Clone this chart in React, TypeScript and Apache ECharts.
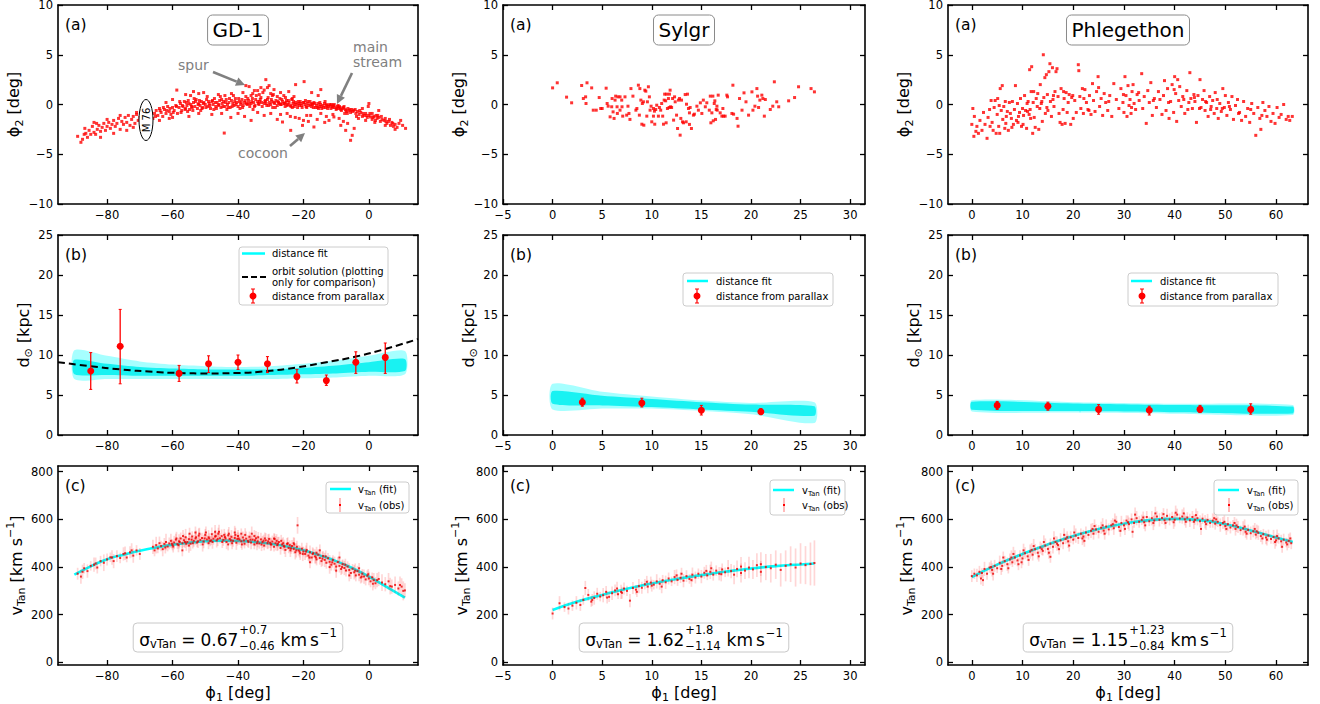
import React, { useEffect, useRef } from "react";
import * as echarts from "echarts";

const FONT = '"DejaVu Sans", "Liberation Sans", sans-serif';

// ---------- layout of the 3x3 panels (pixels) ----------
const COL_LEFT = [58, 503, 948];
const COL_W = [360, 362, 360];
const ROW_TOP = [5, 235, 466];
const ROW_H = [199, 200, 199];

// ---------- axes ----------
const X_MIN = [-95, -5, -4.7];
const X_MAX = [15, 31.5, 66.3];
const X_TICKS = [
  [-80, -60, -40, -20, 0],
  [-5, 0, 5, 10, 15, 20, 25, 30],
  [0, 10, 20, 30, 40, 50, 60],
];
const Y_MIN = [-10, 0, -11];
const Y_MAX = [10, 25, 824];
const Y_TICKS = [
  [-10, -5, 0, 5, 10],
  [0, 5, 10, 15, 20, 25],
  [0, 200, 400, 600, 800],
];
const Y_NAMES = [
  "{m|ϕ}{s|2}{m| [deg]}",
  "{m|d}{s|⊙}{m| [kpc]}",
  "{m|v}{s|Tan}{m| [km s}{u|−1}{m|]}",
];
const X_NAME = "{m|ϕ}{s|1}{m| [deg]}";
const STREAMS = ["GD-1", "Sylgr", "Phlegethon"];
const TAGS = ["(a)", "(b)", "(c)"];

// ---------- row (a): phi2 vs phi1 ----------
const GD1_PHI = [
  [-89,-3.2],[-88,-3.8],[-87.5,-3.5],[-87,-3.0],[-86.5,-2.9],[-86,-3.3],[-85.5,-2.6],[-85,-3.0],[-84.5,-2.2],[-84,-2.8],
  [-83.5,-3.0],[-83,-2.5],[-82.5,-2.1],[-82,-2.7],[-81.5,-2.3],[-81,-1.9],[-80.5,-2.6],[-80,-2.2],[-79.5,-1.8],[-79,-2.4],
  [-78.5,-2.0],[-78,-1.6],[-77.5,-2.2],[-77,-1.9],[-76.5,-1.4],[-76,-2.5],[-75.5,-1.7],[-75,-2.0],[-74.5,-1.3],[-74,-1.8],
  [-73.5,-1.1],[-73,-2.1],[-72.5,-1.5],[-72,-1.2],[-71.5,-1.9],[-71,-1.0],[-70.5,-1.6],[-70,-1.3],[-72,-2.3],[-74,-2.6],
  [-78,-2.9],[-82,-3.3],[-84,-1.8],[-80,-1.5],[-76,-1.1],[-71,-0.8],[-86.8,-2.4],[-83.2,-1.9],
  [-66,-1.4],[-65.5,-0.9],[-65,-0.6],[-64.5,-1.1],[-64,-0.4],[-63.5,-0.8],[-63,-1.2],[-62.5,-0.5],[-62,-0.9],[-61.5,-0.2],
  [-61,-0.7],[-60.5,-1.0],[-60,-0.3],[-59.5,-0.6],[-59,-0.1],[-58.5,-0.9],[-62,0.2],[-60,0.5],[-64,-1.6],[-61,-1.4],
  [-58,-0.3],[-57.6,0.1],[-57.2,-0.6],[-56.8,-0.2],[-56.4,0.3],[-56,-0.4],[-55.6,-0.1],[-55.2,0.4],[-54.8,-0.5],[-54.4,0],
  [-54,-0.3],[-53.6,0.2],[-53.2,-0.2],[-52.8,0.5],[-52.4,-0.4],[-52,0.1],[-51.6,-0.1],[-51.2,0.3],[-50.8,-0.3],[-50.4,0.2],
  [-50,0],[-49.6,0.5],[-49.2,-0.2],[-48.8,0.1],[-48.4,-0.4],[-48,0.3],[-47.6,0],[-47.2,0.6],[-46.8,-0.2],[-46.4,0.2],
  [-46,-0.1],[-45.6,0.4],[-45.2,-0.3],[-44.8,0.1],[-44.4,0.3],[-44,-0.2],[-43.6,0.5],[-43.2,0],[-42.8,0.2],[-42.4,-0.3],
  [-42,0.4],[-41.6,0.1],[-41.2,-0.1],[-40.8,0.6],[-40.4,0.2],[-40,-0.2],[-39.6,0.3],[-39.2,0],[-38.8,0.5],[-38.4,-0.1],
  [-38,0.2],[-37.6,0.8],[-37.2,0],[-36.8,0.4],[-36.4,-0.2],[-36,0.1],[-35.6,0.6],[-35.2,0.2],[-34.8,-0.1],[-34.4,0.9],
  [-34,0.3],[-33.6,0],[-33.2,0.5],[-32.8,0.2],[-32.4,1.2],[-32,0.1],[-31.6,0.4],[-31.2,-0.1],[-30.8,0.7],[-30.4,0.2],
  [-30,0],[-29.6,0.3],[-29.2,1.0],[-28.8,0.1],[-28.4,0.4],[-28,-0.1],[-27.6,0.2],[-27.2,0.6],[-26.8,0],[-26.4,0.3],
  [-26,0.1],[-25.6,-0.2],[-25.2,0.4],[-24.8,0],[-24.4,0.2],[-24,-0.1],[-23.6,0.5],[-23.2,0.1],[-22.8,-0.2],[-22.4,0.2],
  [-22,0],[-21.6,0.3],[-21.2,-0.1],[-20.8,0.1],[-20.4,-0.3],[-20,0.2],[-19.6,0],[-19.2,-0.2],[-18.8,0.1],[-18.4,-0.1],
  [-18,0.3],[-17.6,-0.2],[-17.2,0],[-16.8,0.2],[-16.4,-0.3],[-16,-0.1],[-15.6,0.1],[-15.2,-0.2],[-14.8,0],[-14.4,-0.4],
  [-14,-0.1],[-13.6,0.1],[-13.2,-0.3],[-12.8,-0.1],[-12.4,-0.2],[-12,0],[-11.6,-0.4],[-11.2,-0.2],[-10.8,-0.1],[-10.4,-0.3],
  [-10,-0.5],[-9.6,-0.2],[-9.2,-0.4],[-8.8,-0.3],[-8.4,-0.6],[-8,-0.4],[-7.6,-0.2],[-7.2,-0.5],[-6.8,-0.7],[-6.4,-0.4],
  [-6,-0.6],[-5.6,-0.8],[-5.2,-0.5],
  [-57.4,-0.8],[-55.4,-0.7],[-53.4,0.6],[-51.4,-0.6],[-49.4,0.8],[-47.4,-0.5],[-45.4,0.8],[-43.4,-0.5],[-41.4,0.9],[-39.4,-0.4],
  [-37.4,0.1],[-35.4,-0.5],[-33.4,0.3],[-31.4,0.1],[-29.4,-0.3],[-27.4,0.1],[-25.4,0.2],[-23.4,-0.3],[-21.4,0.1],[-19.4,0.4],
  [-17.4,0.1],[-15.4,-0.4],[-13.4,0.3],[-11.4,0],[-9.4,-0.1],[-7.4,-0.9],[-56,1.0],[-52,1.1],[-53.6,1.3],[-44,0.9],
  [-46,1.0],[-42,1.1],[-54.5,0.9],[-58.7,1.45],[-50.5,1.2],
  [-57.8,0.3],[-57,-0.1],[-56.2,-0.5],[-55.8,0.2],[-55,0.1],[-54.2,-0.2],[-53.8,-0.6],[-53,0.3],[-52.2,0],[-51.8,0.4],
  [-51,-0.4],[-50.6,0.1],[-49.8,-0.3],[-49,0.3],[-48.6,-0.1],[-47.8,0.4],[-47,0.2],[-46.6,-0.4],[-45.8,0],[-45,0.5],
  [-44.6,-0.2],[-43.8,0.2],[-43,-0.3],[-42.6,0.6],[-41.8,-0.2],[-41,0.3],[-40.6,0],[-39.8,0.6],[-39,0.2],[-38.6,-0.3],
  [-37.8,0.4],[-37,0.6],[-36.6,0.1],[-35.8,0.3],[-35,-0.2],[-34.6,0.5],[-33.8,0.1],[-33,0.7],[-32.6,-0.2],[-31.8,0.3],
  [-31,0.5],[-30.6,-0.1],[-29.8,0.5],[-29,0.2],[-28.6,-0.3],[-27.8,0.3],[-27,0],[-26.6,0.5],[-25.8,0.1],[-25,-0.1],
  [-24.6,0.4],[-23.8,-0.2],[-23,0.3],[-22.6,0],[-21.8,-0.3],[-21,0.3],[-20.6,-0.1],[-19.8,0.2],[-19,-0.3],[-18.6,0.3],
  [-17.8,0],[-17,-0.3],[-16.6,0.1],[-15.8,-0.3],[-15,0.2],[-14.6,-0.2],[-13.8,-0.3],[-13,0],[-12.6,-0.4],[-11.8,-0.1],
  [-11,-0.3],[-10.6,0],[-9.8,-0.4],[-9,-0.2],[-8.6,-0.5],[-7.8,-0.3],[-7,-0.6],[-6.6,-0.9],[-5.8,-0.5],[-5,-0.7],
  [-4.2,-0.5],[-3.8,-1.2],[-2.8,-0.6],[-1.8,-0.9],[-0.8,-1.1],[0.3,-0.9],[1.3,-1.3],[2.7,-1.1],[3.8,-1.2],[5.2,-1.7],
  [6.3,-1.5],[7.3,-1.9],[-63.8,-0.6],[-62.8,-0.3],[-61.8,-0.6],[-60.8,-0.4],[-59.8,-0.8],[-58.8,-0.2],[-65.2,-1.2],[-66.5,-1.0],
  [-37.6,1.9],[-36.6,1.8],[-35,1.4],[-34,1.4],[-33,1.7],[-32,1.45],[-31.5,2.5],[-31,1.7],[-30,1.1],[-29,1.5],
  [-28,0.8],[-27,1.2],[-26,0.9],[-33.5,1.0],[-35.5,1.1],[-36,0.9],[-38.5,1.2],[-30.5,1.9],[-29.5,0.9],[-24.5,1.3],
  [-23.4,0.6],[-22.9,0.8],[-22.4,2.0],[-19.8,2.3],[-17.5,1.2],[-14.7,1.5],[-15.5,0.9],[-25.5,0.7],
  [-44.2,-2.87],[-42.2,-1.3],[-40,-0.9],[-38,-1.2],[-36,-1.6],[-34,-0.8],[-32,-1.1],[-30,-0.9],[-28,-1.5],[-26.4,-1.76],
  [-25,-0.9],[-23.9,-2.6],[-22.5,-1.3],[-21.3,-1.4],[-20.3,-2.1],[-19,-1.1],[-17.8,-1.1],[-16.8,-2.26],[-15.8,-1.5],[-14.7,-0.9],
  [-13.5,-1.8],[-12.2,-1.6],[-11,-1.0],[-10.7,-1.25],[-9.1,-1.4],[-8.6,-2.1],[-7.8,-1.7],[-7.1,-2.6],[-6.5,-1.9],[-5.6,-3.6],
  [-5.1,-3.1],[-4.5,-2.4],[-18.5,-1.7],[-24,-1.2],[-27,-1.0],[-20,-1.6],[-13,-1.2],[-45,-0.9],[-48,-1.0],[-52,-0.9],
  [-55,-1.2],[-60,-1.3],
  [-4.6,-0.6],[-4,-0.9],[-3.5,-0.7],[-3,-1.0],[-2.5,-0.8],[-2,-1.2],[-1.5,-1.1],[-1,-0.9],[-0.5,-1.3],[0,-1.1],
  [0.5,-1.25],[1,-1.5],[1.5,-1.2],[2,-1.6],[2.5,-1.4],[3,-1.3],[3.5,-1.7],[4,-1.5],[4.6,-1.6],[5,-1.4],
  [5.5,-1.9],[6,-1.7],[6.6,-2.1],[7,-1.8],[7.5,-2.2],[8,-2.0],[8.6,-2.3],[9.2,-1.9],[9.7,-1.6],[10.3,-2.1],
  [11.2,-2.4],[0,0.1],[-0.2,-0.2],[-2,-0.4],[1,-0.9],[3,-0.6],[5,-2.1],[8,-2.5],[-1,-1.6],[2.2,-1.1],
  [1.8,-1.8],[-3.2,-1.4],
];

const SYLGR_PHI = [
  [0,1.67],[0.47,2.18],[1.41,0.74],[1.92,0.17],[2.93,1.91],[3.1,0.6],[3.33,0.77],[3.47,2.18],[3.37,0.1],[3.94,1.67],
  [4.1,-0.57],[4.4,-0.57],[4.7,0.7],[4.85,-0.4],[5.0,-0.4],[5.4,1.64],[5.5,0.1],[5.6,-0.17],[5.8,-1.24],[5.96,-0.23],
  [6.0,0.6],[6.1,-0.74],[6.2,-1.4],[6.3,0.44],[6.36,0.84],[6.5,-0.23],[6.53,-0.9],[6.6,0.77],[6.8,0.77],[6.8,-0.57],
  [6.97,0.44],[7.0,-0.23],[7.07,-1.17],[7.3,0.77],[7.47,-1.07],[7.6,-0.17],[7.7,-0.9],[7.8,-1.5],[7.9,1.6],[8.1,0.84],
  [8.4,-0.57],[8.5,-0.4],[8.65,1.94],[8.75,-1.07],[8.8,1.6],[8.9,0.44],[9.0,-1.98],[9.05,0.1],[9.16,0.27],[9.2,-2.08],
  [9.3,1.44],[9.4,1.34],[9.5,-1.17],[9.56,0.27],[9.66,1.78],[9.76,0.77],[9.83,-0.57],[9.93,-0.17],[10.0,-1.74],[10.17,-0.4],
  [10.17,-1.17],[10.27,-0.67],[10.3,-1.98],[10.4,-0.5],[10.5,-0.07],[10.67,-1.17],[10.77,-0.3],[10.9,-0.57],[11.0,0.1],[11.1,-1.17],
  [11.18,-1.98],[11.25,0.44],[11.3,1.04],[11.4,0.37],[11.45,-1.84],[11.5,1.04],[11.58,-0.4],[11.68,0.6],[11.75,-0.3],[11.78,1.04],
  [11.85,1.44],[11.9,-0.23],[12.0,-0.3],[12.1,0.6],[12.2,-1.57],[12.3,0.77],[12.36,0.27],[12.5,-1.07],[12.6,-2.41],[12.7,0.44],
  [12.8,0.6],[12.86,-3.08],[12.93,-1.4],[13.0,0.44],[13.1,-1.74],[13.2,-1.84],[13.37,1.0],[13.47,-1.74],[13.5,0.03],[13.6,1.04],
  [13.7,-0.4],[13.8,-0.84],[13.8,-2.0],[13.87,-0.3],[14.0,-2.41],[14.2,-1.07],[14.3,-0.97],[14.55,-0.17],[14.7,-0.57],[14.9,0.17],
  [15.05,-0.9],[15.2,0.44],[15.4,-0.23],[15.55,0.17],[15.8,-0.57],[15.9,0.84],[15.96,-1.84],[16.06,-0.84],[16.16,0.84],[16.2,-1.64],
  [16.3,0.1],[16.36,0.37],[16.43,-1.5],[16.5,-0.5],[16.57,-0.17],[16.6,-0.57],[16.7,0.94],[16.9,-0.84],[17.07,-1.17],[17.17,-0.4],
  [17.24,-1.17],[17.4,-1.17],[17.57,0.94],[17.64,0.77],[18.08,-0.9],[18.18,1.94],[18.25,-0.97],[18.6,-1.4],[18.7,-2.18],[18.85,0.6],
  [19.1,-0.57],[19.3,1.17],[19.5,0.27],[19.76,-1.07],[20.1,1.27],[20.2,-0.57],[20.4,-0.17],[20.6,1.6],[20.67,0.84],[20.77,-0.3],
  [20.9,0.44],[21.1,0.94],[21.2,0.6],[21.35,-1.17],[21.45,0.5],[21.95,-0.5],[22.2,-0.17],[22.36,2.28],[22.6,0.27],[22.8,-0.23],
  [23.8,0.37],[24.4,0.7],[24.8,1.78],[26.06,1.6],[26.4,1.27],
];

const PHLEG_PHI = [
  [0,-2.0],[0.2,-0.4],[0.4,-3.2],[0.5,-1.2],[0.8,-2.7],[1,-2.2],[1.3,-2.9],[1.6,-1.6],[2,-2.6],[2.3,-0.8],
  [2.6,-2.0],[3,-3.4],[3.2,-1.3],[3.5,-0.5],[3.6,-2.2],[3.8,0.4],[4,-1.8],[4.2,-2.6],[4.4,-0.3],[4.6,0.4],
  [4.8,-2.9],[5,-1.0],[5.1,0.6],[5.3,-2.2],[5.5,-2.9],[5.6,1.6],[5.8,-0.6],[6,1.9],[6.1,-1.5],[6.3,-0.2],
  [6.5,-2.4],[6.6,0.3],[6.8,-1.2],[7,-0.7],[7.2,-2.6],[7.4,0.2],[7.6,-0.9],[7.8,-1.4],[8,0.3],[8.2,-2.0],
  [8.4,-0.5],[8.6,1.9],[8.8,-1.6],[9,0.1],[9.2,-1.2],[9.4,-0.8],[9.6,0.6],[9.8,-2.2],[10,-0.4],[10.2,-1.1],
  [10.4,0.9],[10.6,-0.6],[10.8,-2.4],[11,-0.7],[11.1,0.3],[11.3,-1.0],[11.4,3.5],[11.5,-0.5],[11.7,1.3],[11.8,3.8],
  [12,-2.9],[12.1,0.2],[12.3,-1.3],[12.5,-2.3],[12.7,0.6],[12.9,-0.2],[13,1.1],[13.2,-2.5],[13.4,-0.4],[13.5,2.0],
  [13.7,0.1],[13.9,-1.7],[14.1,5.0],[14.2,0.7],[14.4,2.7],[14.5,-0.9],[14.7,3.0],[14.9,1.0],[15,-0.6],[15.2,3.3],
  [15.4,4.1],[15.5,0.3],[15.7,-1.2],[15.9,3.7],[16,0.5],[16.2,-0.2],[16.4,1.3],[16.6,3.3],[16.8,3.6],[17,0.8],
  [17.2,-0.9],[17.4,-1.8],[17.6,1.6],[17.8,-2.0],[18,-0.5],[18.2,0.6],[18.4,-1.9],[18.6,1.2],[18.8,-0.8],[19,0.2],
  [19.2,1.0],[19.5,-2.0],[19.7,0.7],[20,-1.4],[20.3,0.4],[20.6,-0.8],[21,4.0],[21.1,3.4],[21.3,0.8],[21.5,-0.4],
  [21.8,1.6],[22,-0.9],[22.3,1.5],[22.6,0.2],[22.9,-0.5],[23.2,0.9],[23.5,-1.0],[23.8,2.1],[24,0.4],[24.3,-0.7],
  [24.6,1.3],[24.9,2.8],[25.2,-0.2],[25.5,0.6],[25.8,-1.1],[26.1,1.1],[26.4,0.2],[26.8,-0.6],[27.2,0.9],[27.6,-1.2],
  [28,2.1],[28.5,0.5],[29,-0.4],[29.4,1.6],[29.8,0.2],[30,-0.8],[30.2,2.8],[30.4,0.9],[30.6,-1.2],[30.8,1.9],
  [31,-0.1],[31.2,0.5],[31.4,-0.9],[31.6,1.3],[31.8,2.0],[32,0.1],[32.3,-0.5],[32.6,1.0],[33,0.4],[33.5,3.1],
  [33.7,-0.4],[34,0.8],[34.4,-1.9],[34.7,1.4],[35,0.2],[35.3,2.2],[35.6,-1.1],[36,0.6],[36.4,-0.3],[36.8,1.3],
  [37.1,0.5],[37.5,-1.0],[37.8,0.9],[38,2.4],[38.3,-0.6],[38.6,1.6],[38.9,-1.4],[39.2,0.3],[39.5,2.0],[39.8,-0.8],
  [40,2.8],[40.2,1.1],[40.4,-1.7],[40.6,2.5],[40.8,0.4],[41,1.8],[41.3,-0.2],[41.6,0.8],[42,-0.9],[42.4,1.4],
  [42.8,0.2],[43,3.2],[43.2,0.6],[43.5,-0.4],[43.8,1.0],[44,0.3],[44.3,-1.8],[44.6,0.9],[45,2.5],[45.2,-0.3],
  [45.5,0.5],[45.8,1.4],[46,-0.6],[46.3,0.2],[46.6,-1.2],[46.9,0.8],[47.2,-0.2],[47.5,0.4],[47.8,-0.9],[48,1.2],
  [48.3,-0.4],[48.6,-1.4],[48.9,0.1],[49.2,-0.7],[49.5,1.6],[49.8,-0.3],[50,0.9],[50.3,-1.1],[50.6,0.2],[51,-0.5],
  [51.3,0.8],[51.6,-1.5],[52,-0.1],[52.4,0.5],[52.8,-0.8],[53.2,-1.6],[53.6,0.3],[54,-1.2],[54.4,-0.4],[54.8,-1.8],
  [55.2,0.1],[55.6,-0.9],[56,-3.1],[56.4,-0.3],[56.8,-1.4],[57,-2.5],[57.4,0.2],[57.8,-0.6],[58.2,-1.2],[58.6,-0.2],
  [59,-1.7],[59.4,-0.9],[59.8,-1.9],[60.2,-0.3],[60.6,-1.3],[61.5,0.0],[62,-1.5],[62.4,-1.2],[62.7,-1.6],[63.2,-1.2],
  [61,-1.0],[5.4,-0.1],[6.7,-1.9],[7.9,-2.3],[9.1,-1.8],[10.1,-2.0],[10.9,0.1],[11.6,-1.4],[12.2,1.3],[13.8,0.3],
  [14.8,-0.3],[16.1,0.9],[18.1,1.3],[19.9,0.9],[22.1,0.6],[23.1,-0.6],[25,1.7],[27,0.3],[29.9,1.0],[31.5,-0.3],
  [32.9,1.2],[35.8,0.4],[38.8,0.2],[39.9,1.5],[41.8,0.5],[42.6,-0.5],[43.9,0.7],[44.9,-0.4],[46.1,0.3],[47.1,-0.5],
  [48.4,0.5],[49.4,-0.4],[50.8,-0.2],[52.6,-0.9],[55,-0.5],[57.2,-1.1],
];

// ---------- row (b): distances ----------
// [phi1, d, lower, upper]
const GD1_PARALLAX = [
  [-85,8.0,5.7,10.3],[-76,11.1,6.4,15.7],[-58,7.7,6.7,8.7],[-49,8.9,7.8,9.9],[-40,9.1,8.2,10.0],
  [-31,8.9,7.8,9.8],[-22,7.3,6.5,8.2],[-13,6.8,6.2,7.5],[-4,9.1,7.7,10.4],[5,9.7,7.7,11.5],
];
const SYLGR_PARALLAX = [[3,4.1,3.6,4.6],[9,4.0,3.5,4.6],[15,3.1,2.5,3.7],[21,2.9,2.6,3.3]];
const PHLEG_PARALLAX = [[5,3.7,3.2,4.2],[15,3.6,3.1,4.1],[25,3.2,2.6,3.8],[35,3.1,2.5,3.6],[45,3.2,2.8,3.7],[55,3.2,2.6,3.9]];

const GD1_ORBIT_X = [-95,-85,-76,-66,-58,-49,-40,-31,-22,-13,-4,5,15];
const GD1_ORBIT_D = [9.1,8.6,8.2,7.9,7.75,7.7,7.75,8.0,8.45,9.1,9.8,10.75,12.0];

const GD1_BAND_X = [-90,-80,-70,-60,-50,-40,-30,-20,-10,0,11];
const GD1_BAND_OUT_HI = [10.6,9.9,9.2,8.8,8.6,8.5,8.6,8.9,9.3,9.9,10.5];
const GD1_BAND_OUT_LO = [7.0,7.0,7.0,7.0,7.0,7.0,7.0,7.1,7.2,7.4,7.6];
const GD1_BAND_IN_HI = [9.4,8.9,8.5,8.3,8.2,8.2,8.2,8.4,8.7,9.1,9.5];
const GD1_BAND_IN_LO = [7.6,7.5,7.4,7.4,7.4,7.4,7.5,7.6,7.7,7.9,8.0];

const SYLGR_BAND_X = [0,5,10,15,20,26.4];
const SYLGR_BAND_OUT_HI = [6.4,5.4,4.8,4.3,4.0,4.1];
const SYLGR_BAND_OUT_LO = [3.2,3.3,3.3,3.0,2.6,1.5];
const SYLGR_BAND_IN_HI = [5.5,4.9,4.5,4.1,3.8,3.6];
const SYLGR_BAND_IN_LO = [3.9,3.7,3.5,3.2,2.9,2.4];

const PHLEG_BAND_X = [0,20,40,63.3];
const PHLEG_BAND_OUT_HI = [4.35,4.1,3.9,3.75];
const PHLEG_BAND_OUT_LO = [2.95,2.8,2.65,2.5];
const PHLEG_BAND_IN_HI = [4.15,3.95,3.75,3.55];
const PHLEG_BAND_IN_LO = [3.15,3.0,2.85,2.7];

// ---------- row (c): tangential velocities ----------
const GD1_FIT_X = [-90,-85,-80,-75,-70,-65,-60,-55,-50,-45,-40,-35,-30,-25,-20,-15,-10,-5,0,5,11];
const GD1_FIT_V = [368,403,433,452,468,482,494,502,508,511,510,505,498,486,470,449,425,395,360,320,272];
const SYLGR_FIT_X = [0,2.5,5,7.5,10,12.5,15,17.5,20,22.5,25,26.4];
const SYLGR_FIT_V = [220,255,283,309,331,350,366,381,394,404,411,415];
const PHLEG_FIT_X = [0,5,10,15,20,25,30,35,40,45,50,55,60,63.3];
const PHLEG_FIT_V = [358,410,455,495,530,560,582,597,602,597,580,553,524,505];

// [phi1, vTan, error]
const GD1_OBS = [
  [-89,372,25],[-88,360,30],[-87,395,22],[-86,383,28],[-85,405,20],[-84,410,30],[-83,398,25],[-82,425,22],[-81,418,35],[-80,432,25],
  [-79,441,20],[-78,425,30],[-77,446,25],[-76,438,22],[-75,455,28],[-74,440,20],[-73,462,25],[-72,448,30],[-71,470,22],[-70,455,25],
  [-66,485,30],[-65.5,470,25],[-65,492,35],[-64.5,478,20],[-64,500,28],[-63.5,488,22],[-63,475,30],[-62.5,497,25],[-62,505,35],[-61.5,486,20],
  [-61,499,25],[-60.5,510,30],[-60,492,22],[-59.5,503,28],[-59,515,25],[-58.5,496,20],[-58,508,30],[-57.5,520,25],[-57,500,22],[-56.5,512,28],
  [-56,525,35],[-55.5,505,20],[-55,517,25],[-54.5,498,30],[-54,528,22],[-53.5,510,25],[-53,520,28],[-52.5,503,20],[-52,532,30],[-51.5,514,25],
  [-51,522,22],[-50.5,507,28],[-50,535,25],[-49.5,516,20],[-49,525,30],[-48.5,509,22],[-48,538,28],[-47.5,519,25],[-47,528,20],[-46.5,512,30],
  [-46,540,25],[-45.5,521,22],[-45,530,28],[-44.5,514,25],[-44,526,20],[-43.5,505,30],[-43,533,25],[-42.5,518,22],[-42,527,28],[-41.5,510,25],
  [-41,522,20],[-40.5,502,30],[-40,530,25],[-39.5,515,22],[-39,508,28],[-38.5,524,25],[-38,498,20],[-37.5,519,30],[-37,510,25],[-36.5,527,22],
  [-36,503,28],[-35.5,515,25],[-35,495,20],[-34.5,521,30],[-34,508,25],[-33.5,499,22],[-33,516,28],[-32.5,505,25],[-32,490,20],[-31.5,512,30],
  [-31,500,25],[-30.5,518,22],[-30,495,28],[-29.5,507,25],[-29,485,20],[-28.5,500,30],[-28,492,25],[-27.5,505,22],[-27,480,28],[-26.5,495,25],
  [-26,488,20],[-25.5,472,30],[-25,497,25],[-24.5,480,22],[-24,470,28],[-23.5,488,25],[-23,476,20],[-22.5,462,30],[-22,485,25],[-21.8,575,35],
  [-21.5,470,22],[-21,458,28],[-20.5,477,25],[-20,465,20],
  [-62.2,482,25],[-60.2,498,20],[-58.2,492,30],[-56.2,505,25],[-54.2,515,22],[-52.2,508,28],[-50.2,520,25],[-48.2,512,20],[-46.2,518,30],[-44.2,535,25],
  [-42.2,512,22],[-40.2,518,28],[-38.2,512,25],[-36.2,515,20],[-34.2,500,30],[-32.2,511,25],[-30.2,502,22],[-28.2,510,28],[-26.2,500,25],[-24.2,492,20],
  [-22.2,470,30],[-57,470,25],[-53,545,25],[-47,548,28],[-43,495,25],[-39,540,22],[-35,530,25],[-29,520,22],[-23,500,25],[-55,490,30],
  [-41,545,28],[-49,500,25],
  [-59.8,486,25],[-58.8,520,28],[-57.8,505,22],[-56.8,530,25],[-55.8,498,30],[-54.8,540,25],[-53.8,500,22],[-52.8,525,28],[-51.8,540,25],[-50.8,495,30],
  [-49.8,545,25],[-48.8,520,22],[-47.8,505,28],[-46.8,530,25],[-45.8,548,30],[-44.8,505,25],[-43.8,520,22],[-42.8,540,28],[-41.8,500,25],[-40.8,535,30],
  [-39.8,520,25],[-38.8,495,22],[-37.8,535,28],[-36.8,505,25],[-35.8,540,30],[-34.8,512,25],[-33.8,525,22],[-32.8,495,28],[-31.8,520,25],[-30.8,508,30],
  [-29.8,495,25],[-28.8,518,22],[-27.8,498,28],[-26.8,510,25],[-25.8,485,30],[-24.8,500,25],[-23.8,478,22],[-22.8,495,28],[-21.2,465,25],[-20.2,455,30],
  [-19.2,465,25],[-18.2,440,22],[-17.2,455,28],[-16.2,440,25],[-14.2,435,30],[-13.2,445,25],[-11.2,420,22],[-8.2,400,28],[-7.2,410,25],[-4.2,385,30],
  [-2.2,360,25],[-0.2,370,22],[1.2,330,28],[2.5,345,30],[6.5,320,35],[9.5,325,35],[10.5,300,40],[-87.5,380,30],[-83.5,415,25],[-78.5,440,30],
  [-74.5,458,28],[-72.5,470,30],
  [-19.5,455,25],[-19,472,30],[-18.5,448,22],[-18,462,28],[-17.5,440,25],[-17,458,20],[-16.5,445,30],[-16,432,25],[-15.5,452,22],[-15,438,28],
  [-14.5,425,25],[-14,446,20],[-13.5,430,30],[-13,418,25],[-12.5,437,22],[-12,422,28],[-11.5,410,25],[-11,430,20],[-10.5,414,30],[-10,402,25],
  [-9.5,421,22],[-9,405,28],[-8.5,392,25],[-8,412,20],[-7.5,396,30],[-7,385,25],[-6.5,402,22],[-6,388,28],[-5.5,375,25],[-5,393,20],
  [-4.5,378,30],[-4,365,25],[-3.5,383,22],[-3,368,28],[-2.5,356,25],[-2,372,20],[-1.5,360,30],[-1,348,25],[-0.5,364,22],[0,352,28],
  [0.5,340,25],[1,357,20],[1.5,345,30],[2,332,25],[3,350,30],[4,335,35],[5,328,30],[6,340,35],[7,318,30],[8,325,35],
  [9,310,30],[10,318,35],[11,302,30],[-18,420,25],[-15,470,25],[-12,400,28],[-9,440,25],[-6,365,25],[-3,395,22],[-16,460,25],
  [-10,385,30],
];

const SYLGR_OBS = [
  [0,205,25],[0.7,248,30],[1.2,232,20],[1.6,226,25],[2.0,238,22],[2.4,250,28],[2.8,241,25],[3.1,262,20],[3.3,312,30],[3.6,283,25],
  [3.9,255,22],[4.2,270,28],[4.5,288,25],[4.8,276,20],[5.1,282,30],[5.4,296,25],[5.7,275,22],[6.0,290,28],[6.3,302,25],[6.6,286,20],
  [6.9,296,30],[7.2,310,25],[7.5,300,22],[7.8,259,28],[8.1,312,25],[8.4,305,20],[8.7,320,30],[9.0,313,25],[9.3,328,22],[9.6,318,28],
  [9.9,335,25],[10.2,326,20],[10.5,340,30],[10.8,330,25],[11.1,345,22],[11.4,336,28],[11.7,352,25],[12.0,340,20],[12.3,358,30],[12.6,346,25],
  [12.9,355,22],[13.2,343,28],[13.5,362,25],[13.8,350,20],[14.1,368,30],[14.4,356,25],[14.7,372,22],[15.0,360,28],[15.3,376,25],[15.6,365,20],
  [15.9,380,30],[16.2,368,25],[16.5,385,22],[16.8,372,28],[17.1,390,25],[17.4,378,20],[17.7,395,35],[18.0,383,30],[18.3,368,40],[18.6,392,35],
  [19.0,402,40],[19.4,385,35],[19.8,398,45],[20.2,390,40],[20.6,408,50],[21.0,380,45],[21.5,400,55],[22.0,395,60],[22.5,410,60],[23.0,388,70],
  [23.5,405,65],[24.0,412,75],[24.5,398,80],[25.0,415,85],[25.5,408,80],[26.0,413,90],[26.4,417,95],[5.5,272,25],[7,292,25],[8.5,296,22],
  [9.5,338,25],[11,318,28],[12.5,365,25],[14,345,28],[15.5,384,25],[17,370,30],[10,322,25],[13,372,25],[6.5,310,28],[4,262,25],
  [16,395,28],[19,375,40],[21,412,50],
];

const PHLEG_OBS = [
  [0,362,25],[0.5,372,22],[1,365,28],[1.5,380,25],[2,375,20],[2.5,392,30],[3,372,25],[3.5,398,22],[4,388,28],[4.5,405,25],
  [5,395,20],[5.5,418,30],[6,405,25],[6.5,425,22],[7,412,28],[7.5,432,25],[8,420,20],[8.5,440,30],[9,428,25],[9.5,448,22],
  [10,436,28],[10.5,458,25],[11,445,20],[11.5,465,30],[12,452,25],[12.5,475,22],[13,460,28],[13.5,482,25],[14,468,20],[14.5,490,30],
  [15,476,25],[15.5,498,22],[16,485,28],[16.5,505,25],[17,492,20],[17.5,512,30],[18,500,25],[18.5,518,22],[19,508,28],[19.5,525,25],
  [20,515,20],[20.5,532,30],[21,522,25],[21.5,540,22],[22,528,28],[22.5,545,25],[23,535,20],[23.5,552,30],[24,540,25],[24.5,558,22],
  [25,548,28],[25.5,565,25],[26,553,20],[26.5,570,30],[27,558,25],[27.5,575,22],[28,563,28],[28.5,590,25],[29,568,20],[29.5,585,30],
  [30,575,25],[30.5,595,22],[31,580,28],[31.5,600,25],[32,585,20],[32.5,605,30],[33,590,25],[33.5,598,22],[34,588,28],[34.5,610,25],
  [35,592,20],[35.5,605,30],[36,595,25],[36.5,612,22],[37,598,28],[37.5,606,25],[38,596,20],[38.5,615,30],[39,600,25],[39.5,610,22],
  [40,598,28],[40.5,620,25],[41,604,20],[41.5,612,30],[42,600,25],[42.5,608,22],[43,596,28],[43.5,610,25],[44,598,20],[44.5,605,30],
  [45,592,25],[45.5,603,22],[46,590,28],[46.5,598,25],[47,585,20],[47.5,595,30],[48,582,25],[48.5,590,22],[49,576,28],[49.5,585,25],
  [50,572,20],[50.5,580,30],[51,566,25],[51.5,575,22],[52,560,28],[52.5,568,25],[53,555,20],[53.5,562,30],[54,548,25],[54.5,556,22],
  [55,542,28],[55.5,550,25],[56,536,20],[56.5,544,30],[57,530,25],[57.5,538,22],[58,524,28],[58.5,532,25],[59,518,20],[59.5,526,30],
  [60,512,25],[60.5,520,22],[61,508,28],[61.5,515,25],[62,503,20],[62.5,510,30],[63,500,25],
  [2.2,345,25],[4.2,372,28],[6.2,440,25],[7.2,395,22],[8.2,455,30],[9.2,412,25],[10.2,470,28],[11.2,430,25],[12.2,488,30],[13.2,445,22],
  [14.2,505,28],[15.2,460,25],[16.2,520,30],[17.2,475,22],[18.2,535,28],[19.2,490,25],[20.2,545,30],[22.2,510,25],[24.2,572,28],[26.2,540,25],
  [28.2,595,30],[30.2,560,25],[32.2,620,30],[34.2,575,25],[36.2,625,28],[38.2,585,25],[40.2,628,30],[42.2,590,25],[44.2,618,28],[46.2,580,25],
  [48.2,600,28],[50.2,560,25],[52.2,575,28],[54.2,540,25],[56.2,550,28],[58.2,515,25],[60.2,530,28],[62.2,495,25],[15.5,443,25],[29.3,552,25],
  [31.7,548,25],[45.2,560,25],[57.3,520,25],[61.2,485,25],
  [1.8,352,25],[3.8,400,28],[5.8,392,25],[7.8,440,30],[9.8,420,25],[11.8,472,28],[13.8,475,25],[16.8,498,30],[18.8,525,25],[21.8,520,28],
  [23.8,560,25],[25.8,575,30],[27.8,580,25],[30.8,588,28],[33.8,608,25],[35.8,585,30],[37.8,622,25],[39.8,588,28],[41.8,625,25],[43.8,590,30],
  [47.8,605,25],[49.8,590,28],[51.8,585,25],[53.8,570,30],[55.8,560,25],[59.8,505,28],[62.8,520,25],
];

const SIGMA = [
  { value: "0.67", plus: "+0.7", minus: "−0.46" },
  { value: "1.62", plus: "+1.8", minus: "−1.14" },
  { value: "1.15", plus: "+1.23", minus: "−0.84" },
];

// ---------- helpers ----------
let measureCtx: any = null;
function tw(text: string, size: number) {
  if (!measureCtx) measureCtx = document.createElement("canvas").getContext("2d");
  measureCtx.font = `${size}px "DejaVu Sans"`;
  return measureCtx.measureText(text).width;
}
const fmt = (v: number) => (v < 0 ? "\u2212" + Math.abs(v) : String(v));

function txt(x: number, y: number, text: string, size: number, opts: any = {}) {
  return {
    type: "text", x, y, z: 60, silent: true,
    rotation: opts.rotation || 0,
    style: {
      text, fill: opts.color || "#000", fontSize: size, fontFamily: FONT,
      align: opts.align || "left", verticalAlign: "middle", rich: opts.rich,
    },
  };
}
function rect(x: number, y: number, w: number, h: number, stroke: string, r = 4) {
  return { type: "rect", z: 55, silent: true, shape: { x, y, width: w, height: h, r },
    style: { fill: "rgba(255,255,255,0.9)", stroke, lineWidth: 1 } };
}
function seg(x1: number, y1: number, x2: number, y2: number, stroke: string, w: number, dash?: number[]) {
  return { type: "line", z: 60, silent: true, shape: { x1, y1, x2, y2 },
    style: { stroke, lineWidth: w, lineDash: dash || null } };
}
function arrow(x1: number, y1: number, x2: number, y2: number, color: string) {
  const dx = x2 - x1, dy = y2 - y1, L = Math.hypot(dx, dy);
  const ux = dx / L, uy = dy / L, hl = 9, hw = 4.5;
  const bx = x2 - ux * hl, by = y2 - uy * hl;
  return [
    seg(x1, y1, bx, by, color, 2.6),
    { type: "polygon", z: 60, silent: true,
      shape: { points: [[x2, y2], [bx - uy * hw, by + ux * hw], [bx + uy * hw, by - ux * hw]] },
      style: { fill: color } },
  ];
}
const LEG_RICH = {
  t: { fontSize: 10, fontFamily: FONT, fill: "#000", color: "#000", lineHeight: 14 },
  s: { fontSize: 7, fontFamily: FONT, fill: "#000", color: "#000", lineHeight: 7, verticalAlign: "bottom" },
};

function errDot(x: number, y: number) {
  return [
    seg(x, y - 7, x, y + 7, "#ff0000", 1.2),
    seg(x - 2, y - 7, x + 2, y - 7, "#ff0000", 1),
    seg(x - 2, y + 7, x + 2, y + 7, "#ff0000", 1),
    { type: "circle", z: 61, silent: true, shape: { cx: x, cy: y, r: 3.5 }, style: { fill: "#ff0000" } },
  ];
}
function obsMark(x: number, y: number) {
  return [
    seg(x, y - 7, x, y + 7, "rgba(255,0,0,0.45)", 1.2),
    { type: "rect", z: 61, silent: true, shape: { x: x - 1, y: y - 1, width: 2, height: 2 }, style: { fill: "#ff0000" } },
  ];
}

function sigmaBox(cx: number, C: number, d: any) {
  const M = 17, S = 11.5;
  const out: any[] = [];
  const parts: any[] = [];
  let x = 0;
  parts.push({ t: "σ", s: M, dy: 0, x }); x += tw("σ", M);
  parts.push({ t: "vTan", s: S, dy: 4, x }); x += tw("vTan", S) + 5;
  parts.push({ t: "=", s: M, dy: 0, x }); x += tw("=", M) + 5;
  parts.push({ t: d.value, s: M, dy: 0, x }); x += tw(d.value, M) + 1;
  parts.push({ t: d.plus, s: S, dy: -10, x });
  parts.push({ t: d.minus, s: S, dy: 6.5, x });
  x += Math.max(tw(d.plus, S), tw(d.minus, S)) + 6;
  parts.push({ t: "km", s: M, dy: 0, x }); x += tw("km", M) + 3;
  parts.push({ t: "s", s: M, dy: 0, x }); x += tw("s", M) + 1;
  parts.push({ t: "−1", s: S, dy: -7, x }); x += tw("−1", S);
  const x0 = cx - x / 2;
  const bw = x + 12;
  out.push(rect(cx - bw / 2, C - 16.5, bw, 29, "#c8c8c8", 4));
  for (const p of parts) out.push(txt(x0 + p.x, C + p.dy, p.t, p.s));
  return out;
}

function bandSeries(g: number, xs: number[], lo: number[], hi: number[], color: string, z: number) {
  return {
    type: "custom", xAxisIndex: 2 * g, yAxisIndex: 2 * g, silent: true, z,
    data: [[xs[0], lo[0]]], encode: { x: 0, y: 1 },
    renderItem: (params: any, api: any) => {
      const pts: number[][] = [];
      for (let i = 0; i < xs.length; i++) pts.push(api.coord([xs[i], hi[i]]));
      for (let i = xs.length - 1; i >= 0; i--) pts.push(api.coord([xs[i], lo[i]]));
      return { type: "polygon", shape: { points: pts, smooth: 0.25 }, style: { fill: color } };
    },
  };
}
function parallaxSeries(g: number, data: number[][]) {
  return {
    type: "custom", xAxisIndex: 2 * g, yAxisIndex: 2 * g, silent: true, z: 6,
    data, encode: { x: 0, y: 1 },
    renderItem: (params: any, api: any) => {
      const x = api.value(0), y = api.value(1), lo = api.value(2), hi = api.value(3);
      const p = api.coord([x, y]), pl = api.coord([x, lo]), ph = api.coord([x, hi]);
      return {
        type: "group",
        children: [
          { type: "line", shape: { x1: p[0], y1: ph[1], x2: p[0], y2: pl[1] }, style: { stroke: "#ff0000", lineWidth: 1.3 } },
          { type: "line", shape: { x1: p[0] - 1.5, y1: ph[1], x2: p[0] + 1.5, y2: ph[1] }, style: { stroke: "#ff0000", lineWidth: 1 } },
          { type: "line", shape: { x1: p[0] - 1.5, y1: pl[1], x2: p[0] + 1.5, y2: pl[1] }, style: { stroke: "#ff0000", lineWidth: 1 } },
          { type: "circle", shape: { cx: p[0], cy: p[1], r: 3.5 }, style: { fill: "#ff0000" } },
        ],
      };
    },
  };
}
function obsSeries(g: number, data: number[][]) {
  return {
    type: "custom", xAxisIndex: 2 * g, yAxisIndex: 2 * g, silent: true, z: 5,
    data, encode: { x: 0, y: 1 },
    renderItem: (params: any, api: any) => {
      const x = api.value(0), v = api.value(1), e = api.value(2);
      const p = api.coord([x, v]), t = api.coord([x, v + e]), b = api.coord([x, v - e]);
      return {
        type: "group",
        children: [
          { type: "line", shape: { x1: p[0], y1: t[1], x2: p[0], y2: b[1] }, style: { stroke: "rgba(255,0,0,0.16)", lineWidth: 1.7 } },
          { type: "rect", shape: { x: p[0] - 1, y: p[1] - 1, width: 2, height: 2 }, style: { fill: "rgba(235,0,0,0.8)" } },
        ],
      };
    },
  };
}
function pairs(xs: number[], ys: number[]) {
  return xs.map((x, i) => [x, ys[i]]);
}

function buildOption() {
  const grid: any[] = [], xAxis: any[] = [], yAxis: any[] = [], series: any[] = [], el: any[] = [];
  const nameStyle = {
    color: "#000", fontFamily: FONT,
    rich: {
      m: { fontSize: 16, fontFamily: FONT, color: "#000", lineHeight: 22 },
      s: { fontSize: 11, fontFamily: FONT, color: "#000", lineHeight: 11, verticalAlign: "bottom" },
      u: { fontSize: 11, fontFamily: FONT, color: "#000", lineHeight: 11, verticalAlign: "top" },
    },
  };
  const Y_NAME_GAP = [31, 21, 27];
  for (let r = 0; r < 3; r++) {
    for (let c = 0; c < 3; c++) {
      const g = r * 3 + c;
      grid.push({ left: COL_LEFT[c], top: ROW_TOP[r], width: COL_W[c], height: ROW_H[r], containLabel: false, outerBoundsMode: "none", show: false });
      const line = { show: true, onZero: false, lineStyle: { color: "#000", width: 1.6 } };
      const tick = (vals: number[]) => ({ show: true, inside: true, length: 5, customValues: vals, lineStyle: { color: "#000", width: 1.3 } });
      const label = (vals: number[]) => ({ show: true, customValues: vals, formatter: fmt, color: "#000", fontSize: 11.5, fontFamily: FONT, margin: 5 });
      const xb: any = {
        gridIndex: g, type: "value", position: "bottom", min: X_MIN[c], max: X_MAX[c],
        axisLine: line, axisTick: tick(X_TICKS[c]), axisLabel: label(X_TICKS[c]), splitLine: { show: false },
      };
      if (r === 2) Object.assign(xb, { name: X_NAME, nameLocation: "middle", nameGap: 16, nameTextStyle: nameStyle });
      xAxis.push(xb);
      xAxis.push({ gridIndex: g, type: "value", position: "top", min: X_MIN[c], max: X_MAX[c],
        axisLine: line, axisTick: tick(X_TICKS[c]), axisLabel: { show: false }, splitLine: { show: false } });
      yAxis.push({ gridIndex: g, type: "value", position: "left", min: Y_MIN[r], max: Y_MAX[r],
        axisLine: line, axisTick: tick(Y_TICKS[r]), axisLabel: label(Y_TICKS[r]), splitLine: { show: false },
        name: Y_NAMES[r], nameLocation: "middle", nameGap: Y_NAME_GAP[r], nameTextStyle: nameStyle });
      yAxis.push({ gridIndex: g, type: "value", position: "right", min: Y_MIN[r], max: Y_MAX[r],
        axisLine: line, axisTick: tick(Y_TICKS[r]), axisLabel: { show: false }, splitLine: { show: false } });
      el.push(txt(COL_LEFT[c] + 7, ROW_TOP[r] + 20, TAGS[r], 15.5));
    }
  }

  // ----- row (a) scatter -----
  const phi = [GD1_PHI, SYLGR_PHI, PHLEG_PHI];
  phi.forEach((d, c) => {
    series.push({ type: "scatter", xAxisIndex: 2 * c, yAxisIndex: 2 * c, data: d, symbol: "rect", symbolSize: 3,
      itemStyle: { color: "#ff0000" }, silent: true, z: 3 });
  });

  // ----- row (b) -----
  const bands = [
    [GD1_BAND_X, GD1_BAND_OUT_LO, GD1_BAND_OUT_HI, GD1_BAND_IN_LO, GD1_BAND_IN_HI],
    [SYLGR_BAND_X, SYLGR_BAND_OUT_LO, SYLGR_BAND_OUT_HI, SYLGR_BAND_IN_LO, SYLGR_BAND_IN_HI],
    [PHLEG_BAND_X, PHLEG_BAND_OUT_LO, PHLEG_BAND_OUT_HI, PHLEG_BAND_IN_LO, PHLEG_BAND_IN_HI],
  ];
  bands.forEach((b: any, c) => {
    const g = 3 + c;
    series.push(bandSeries(g, b[0], b[1], b[2], "rgba(0,255,255,0.35)", 2));
    series.push(bandSeries(g, b[0], b[3], b[4], "rgba(0,240,240,0.85)", 3));
  });
  series.push({ type: "line", xAxisIndex: 6, yAxisIndex: 6, data: pairs(GD1_ORBIT_X, GD1_ORBIT_D), smooth: true, showSymbol: false,
    silent: true, z: 4, lineStyle: { color: "#000", width: 2, type: [7, 4] } });
  [GD1_PARALLAX, SYLGR_PARALLAX, PHLEG_PARALLAX].forEach((d, c) => series.push(parallaxSeries(3 + c, d)));

  // ----- row (c) -----
  const fits = [[GD1_FIT_X, GD1_FIT_V], [SYLGR_FIT_X, SYLGR_FIT_V], [PHLEG_FIT_X, PHLEG_FIT_V]];
  fits.forEach((f, c) => {
    const g = 6 + c;
    series.push({ type: "line", xAxisIndex: 2 * g, yAxisIndex: 2 * g, data: pairs(f[0], f[1]), smooth: true, showSymbol: false,
      silent: true, z: 4, lineStyle: { color: "#00ffff", width: 2.6 } });
  });
  [GD1_OBS, SYLGR_OBS, PHLEG_OBS].forEach((d, c) => series.push(obsSeries(6 + c, d)));

  // ----- titles -----
  STREAMS.forEach((s, c) => {
    const cx = COL_LEFT[c] + COL_W[c] / 2;
    const w = tw(s, 20);
    el.push(rect(cx - w / 2 - 5, 15, w + 10, 30, "#8a8a8a", 5));
    el.push(txt(cx, 30, s, 20, { align: "center" }));
  });

  // ----- GD-1 annotations -----
  const gray = "#808080";
  el.push(txt(178, 65, "spur", 14, { color: gray }));
  el.push(txt(353, 47, "main", 14, { color: gray }));
  el.push(txt(353, 62, "stream", 14, { color: gray }));
  el.push(txt(238, 153, "cocoon", 14, { color: gray }));
  el.push(...arrow(213, 72, 245, 85, gray));
  el.push(...arrow(352, 73, 337, 104, gray));
  el.push(...arrow(290, 146, 305, 133, gray));
  el.push({ type: "ellipse", z: 58, silent: true, shape: { cx: 146, cy: 120, rx: 7, ry: 20.5 }, style: { fill: "#fff", stroke: "#000", lineWidth: 1 } });
  el.push({ type: "text", x: 146, y: 120, z: 60, silent: true, rotation: Math.PI / 2,
    style: { text: "M 76", fontSize: 10, fontFamily: FONT, fill: "#000", align: "center", verticalAlign: "middle" } });

  // ----- legends row (b) -----
  el.push(rect(239, 247, 149, 58, "#cccccc", 3));
  el.push(seg(242, 253.5, 265, 253.5, "#00ffff", 2.5));
  el.push(txt(272, 253.5, "distance fit", 10));
  el.push(seg(242, 277, 266, 277, "#000", 2, [6, 3]));
  el.push(txt(272, 271, "orbit solution (plotting", 10));
  el.push(txt(272, 282, "only for comparison)", 10));
  el.push(...errDot(253, 296));
  el.push(txt(272, 296, "distance from parallax", 10));
  [[683, 687, 716, 697], [1128, 1131, 1160, 1142]].forEach(([bx, lx, tx, dx]) => {
    el.push(rect(bx, 273, 150, 33, "#cccccc", 3));
    el.push(seg(lx, 281, lx + 21, 281, "#00ffff", 2.5));
    el.push(txt(tx, 281, "distance fit", 10));
    el.push(...errDot(dx, 296));
    el.push(txt(tx, 296, "distance from parallax", 10));
  });

  // ----- legends row (c) -----
  [[326, 482, 83, 31, 330, 358, 340, 489, 505], [770, 480, 75, 35, 773, 802, 784, 490, 505], [1214, 480, 84, 35, 1218, 1247, 1229, 490, 505]]
    .forEach(([bx, by, bw, bh, lx, tx, mx, y1, y2]) => {
      el.push(rect(bx, by, bw, bh, "#cccccc", 3));
      el.push(seg(lx, y1, lx + 21, y1, "#00ffff", 2.5));
      el.push(txt(tx, y1, "{t|v}{s|Tan}{t| (fit)}", 10, { rich: LEG_RICH }));
      el.push(...obsMark(mx, y2));
      el.push(txt(tx, y2, "{t|v}{s|Tan}{t| (obs)}", 10, { rich: LEG_RICH }));
    });

  // ----- sigma boxes -----
  SIGMA.forEach((d, c) => el.push(...sigmaBox(COL_LEFT[c] + COL_W[c] / 2, 639.5, d)));

  return {
    animation: false,
    backgroundColor: "#ffffff",
    textStyle: { fontFamily: FONT },
    grid, xAxis, yAxis, series,
    graphic: { elements: el },
  };
}

export default function App() {
  const ref = useRef<HTMLDivElement>(null);
  useEffect(() => {
    const chart = echarts.init(ref.current as HTMLDivElement, null, { renderer: "svg" });
    chart.setOption(buildOption() as any);
    return () => chart.dispose();
  }, []);
  return (
    <div
      ref={ref}
      style={{ position: "fixed", left: 0, top: 0, width: 1320, height: 704, background: "#fff" }}
    />
  );
}
